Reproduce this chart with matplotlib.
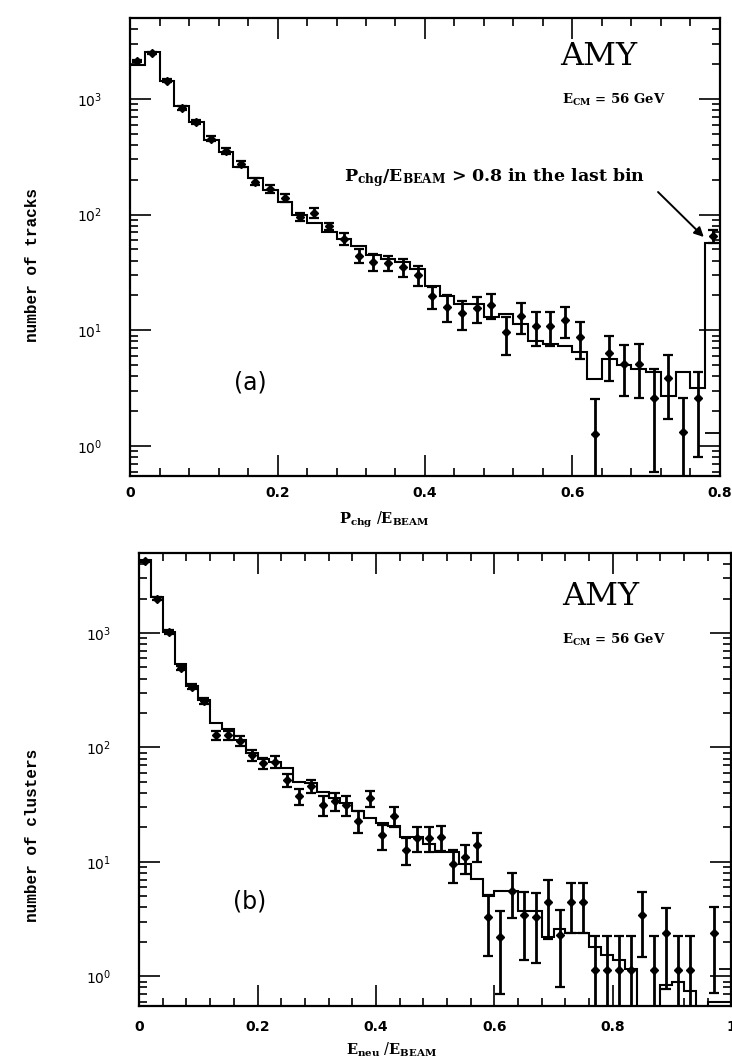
import numpy as np
import matplotlib
matplotlib.use('Agg')
import matplotlib.pyplot as plt
from matplotlib.ticker import MultipleLocator, LogLocator, FuncFormatter, NullFormatter

plt.rcParams['font.family'] = ['DejaVu Sans']
plt.rcParams['mathtext.fontset'] = 'dejavuserif'

# (a) charged tracks: bins of 0.02 in P_chg/E_BEAM, last bin holds everything above 0.8
bin_a = 0.02
tracks_mc = [1960, 2540, 1430, 870, 635, 445, 350, 258, 209, 164,
             129, 100, 85, 71, 61, 53, 45, 41, 38.6, 33.6,
             24, 19.6, 16.7, 16.7, 13, 13.7, 11.3, 8.0, 7.6, 7.3,
             6.5, 3.8, 5.6, 5.0, 4.6, 4.35, 2.7, 4.4, 3.16, 57]
tracks_data = [2130, 2500, 1430, 835, 635, 452, 355, 275, 193, 167,
               140, 96, 104, 79, 62, 44, 39, 38.5, 35, 30,
               19.6, 16, 14, 15.5, 16.4, 9.6, 13.2, 10.8, 10.8, 12.2,
               8.7, 1.27, 6.3, 5.1, 5.1, 2.6, 3.9, 1.32, 2.6, 65]
tracks_err = [50, 55, 40, 30, 26, 22, 19, 17, 14, 13,
              12, 8, 11, 6, 7, 6, 6.5, 5.7, 6, 5.8,
              4.2, 4.2, 4, 4, 4, 3.5, 3.9, 3.5, 3.5, 3.6,
              3.1, 1.27, 2.65, 2.4, 2.5, 2.0, 2.2, 1.3, 1.8, 8]
tracks_last_inner = 1.3

# (b) neutral clusters: bins of 0.02 in E_neu/E_BEAM
bin_b = 0.02
clusters_mc = [4300, 2050, 1020, 537, 347, 262, 165, 144, 117, 90,
               80, 74, 66, 50, 49, 40.5, 36, 33, 27.7, 24,
               21.8, 20.6, 16.5, 16.5, 14.4, 12.2, 12.2, 9.6, 7.1, 5.0,
               5.6, 5.6, 3.7, 3.7, 2.2, 2.6, 2.37, 2.37, 1.82, 1.52,
               1.38, 1.17, 0, 0, 0.84, 0.9, 0.74, 0, 0.6, 0.6]
clusters_data = [4230, 2000, 1020, 497, 339, 255, 128, 128, 114, 85,
                 73, 75, 52, 37.5, 45.7, 31.4, 34, 31.4, 22.7, 36,
                 17, 25, 12.8, 16.2, 16.2, 16.5, 9.6, 11, 14, 3.3,
                 2.2, 5.6, 3.4, 3.3, 4.5, 2.3, 4.5, 4.5, 1.13, 1.13,
                 1.13, 1.13, 3.46, 1.13, 2.37, 1.13, 1.13, np.nan, 2.37, np.nan]
clusters_err = [65, 45, 32, 22, 18, 16, 12, 12, 11, 9,
                8.5, 8.5, 7, 6, 6, 6, 6, 6, 5, 5.6,
                4.2, 5, 3.5, 3.9, 4, 4, 3.1, 3.1, 4, 1.8,
                1.5, 2.4, 2, 2, 2.4, 1.5, 2.1, 2.1, 1.1, 1.1,
                1.1, 1.1, 2, 1.1, 1.6, 1.1, 1.1, np.nan, 1.65, np.nan]
clusters_last_inner = 1.17


def draw_panel(ax, width, mc, data, err, inner, xmax):
    mc = np.asarray(mc, dtype=float)
    edges = np.arange(len(mc) + 1) * width
    centers = edges[:-1] + width / 2
    # empty bins drop the histogram down to the bottom of the log axis
    ax.stairs(np.where(mc > 0, mc, 1e-3), edges, baseline=None, color='k', lw=1.5)
    ax.hlines(inner, edges[-2], edges[-1], color='k', lw=1.3)
    ax.errorbar(centers, data, yerr=err, fmt='D', ms=4.5, color='k',
                elinewidth=2.0, capsize=3.5, capthick=1.6)
    ax.set_yscale('log')
    ax.set_ylim(0.55, 5000)
    ax.set_xlim(0, xmax)
    ax.xaxis.set_major_locator(MultipleLocator(0.2))
    ax.xaxis.set_minor_locator(MultipleLocator(0.04))
    ax.xaxis.set_major_formatter(FuncFormatter(lambda v, p: '{:g}'.format(round(v, 2))))
    ax.yaxis.set_major_locator(LogLocator(base=10))
    ax.yaxis.set_minor_locator(LogLocator(base=10, subs=np.arange(2, 10)))
    ax.yaxis.set_minor_formatter(NullFormatter())
    ax.tick_params(which='both', direction='in', top=True, right=True, width=1.2)
    ax.tick_params(which='major', length=15)
    ax.tick_params(which='minor', length=6)
    ax.tick_params(axis='y', which='major', pad=20, labelsize=10)
    ax.tick_params(axis='x', which='major', labelsize=10)
    for lab in ax.get_xticklabels():
        lab.set_fontweight('bold')
    for s in ax.spines.values():
        s.set_linewidth(1.6)


fig = plt.figure(figsize=(7.32, 10.63), dpi=100)

ax_a = fig.add_axes([0.1776, 0.5522, 0.8060, 0.4309])
draw_panel(ax_a, bin_a, tracks_mc, tracks_data, tracks_err, tracks_last_inner, 0.8)
ax_a.tick_params(axis='x', which='major', pad=7)
ax_a.text(0.794, 0.915, 'AMY', transform=ax_a.transAxes, ha='center', va='center',
          fontsize=23, family='DejaVu Serif')
ax_a.text(0.733, 0.821, r'$\mathbf{E_{CM}}$ = 56 GeV', transform=ax_a.transAxes,
          ha='left', va='center', fontsize=9.5, family='DejaVu Serif', fontweight='bold')
ax_a.text(0.363, 0.651, r'$\mathbf{P_{chg}/E_{BEAM}}$ > 0.8 in the last bin',
          transform=ax_a.transAxes, ha='left', va='center', fontsize=12.5,
          family='DejaVu Serif', fontweight='bold')
ax_a.annotate('', xy=(0.778, 64), xycoords='data', xytext=(0.895, 0.62),
              textcoords='axes fraction',
              arrowprops=dict(arrowstyle='-|>', color='k', lw=1.4,
                              shrinkA=0, shrinkB=0, mutation_scale=14))
ax_a.text(0.204, 0.205, '(a)', transform=ax_a.transAxes, ha='center', va='center',
          fontsize=17)
ax_a.set_ylabel('number of tracks', family='Liberation Mono', fontweight='bold',
                fontsize=11.5)
ax_a.yaxis.set_label_coords(-0.152, 0.46)
fig.text(0.525, 0.511, r'$\mathbf{P_{chg}}$ /$\mathbf{E_{BEAM}}$', ha='center',
         va='center', fontsize=10.5)

ax_b = fig.add_axes([0.190, 0.0536, 0.809, 0.4262])
draw_panel(ax_b, bin_b, clusters_mc, clusters_data, clusters_err, clusters_last_inner, 1.0)
ax_b.tick_params(axis='x', which='major', pad=10)
ax_b.text(0.78, 0.903, 'AMY', transform=ax_b.transAxes, ha='center', va='center',
          fontsize=23, family='DejaVu Serif')
ax_b.text(0.714, 0.808, r'$\mathbf{E_{CM}}$ = 56 GeV', transform=ax_b.transAxes,
          ha='left', va='center', fontsize=9.5, family='DejaVu Serif', fontweight='bold')
ax_b.text(0.187, 0.23, '(b)', transform=ax_b.transAxes, ha='center', va='center',
          fontsize=17)
ax_b.set_ylabel('number of clusters', family='Liberation Mono', fontweight='bold',
                fontsize=11.5)
ax_b.yaxis.set_label_coords(-0.1667, 0.377)
fig.text(0.535, 0.012, r'$\mathbf{E_{neu}}$ /$\mathbf{E_{BEAM}}$', ha='center',
         va='center', fontsize=10.5)

fig.savefig('out.png', dpi=100)
